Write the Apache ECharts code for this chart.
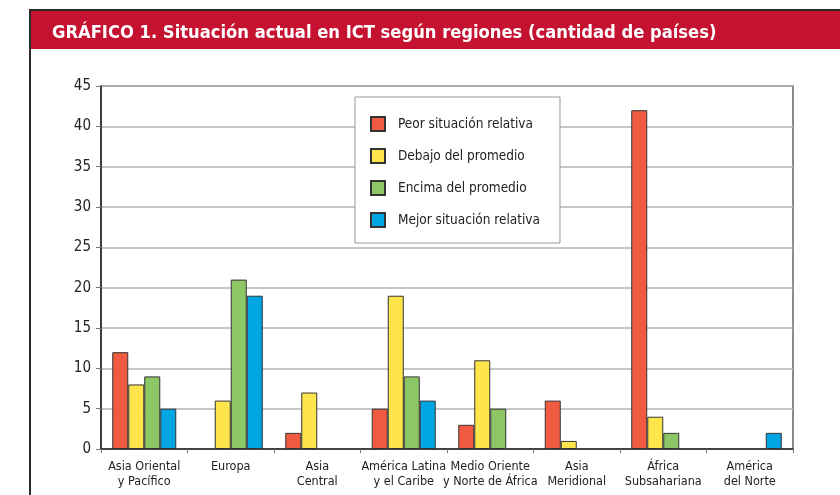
<!DOCTYPE html>
<html>
<head>
<meta charset="utf-8">
<script src="https://cdn.jsdelivr.net/npm/echarts@6/dist/echarts.min.js"></script>
<style>
  html, body { margin: 0; padding: 0; background: #fff; }
  #chart { width: 840px; height: 495px; }
</style>
</head>
<body>
<div id="chart"></div>
<script>
const regions = [
  'Asia Oriental\ny Pacífico',
  'Europa',
  'Asia\nCentral',
  'América Latina\ny el Caribe',
  'Medio Oriente\ny Norte de África',
  'Asia\nMeridional',
  'África\nSubsahariana',
  'América\ndel Norte'
]
const seriesNames = [
  'Peor situación relativa',
  'Debajo del promedio',
  'Encima del promedio',
  'Mejor situación relativa'
]
const peor = [12, null, 2, 5, 3, 6, 42, null]
const debajo = [8, 6, 7, 19, 11, 1, 4, null]
const encima = [9, 21, null, 9, 5, null, 2, null]
const mejor = [5, 19, null, 6, null, null, null, 2]
const colors = ['#f05a40', '#ffe54c', '#8cc665', '#00a5e3']

const font = '"Liberation Sans Narrow", "DejaVu Sans Condensed", Arial, sans-serif'

const chart = echarts.init(document.getElementById('chart'))

const makeSeries = (name, data, color) => ({
  name: name,
  type: 'bar',
  data: data,
  barWidth: 16,
  barGap: '0%',
  itemStyle: { color: color, borderColor: '#333', borderWidth: 1 }
})

chart.setOption({
  animation: false,
  title: {
    text: 'GRÁFICO 1. Situación actual en ICT según regiones (cantidad de países)',
    left: 47,
    top: 19,
    textStyle: { color: '#fff', fontFamily: font, fontWeight: 'bold', fontSize: 18.2 }
  },
  graphic: [
    { type: 'rect', z: -1, shape: { x: 29, y: 9, width: 811, height: 2 }, style: { fill: '#2b2b2b' } },
    { type: 'rect', z: -1, shape: { x: 29, y: 9, width: 2, height: 486 }, style: { fill: '#2b2b2b' } },
    { type: 'rect', z: -1, shape: { x: 31, y: 11, width: 809, height: 38 }, style: { fill: '#c41230' } }
  ],
  legend: {
    orient: 'vertical',
    left: 355,
    top: 97,
    backgroundColor: '#fff',
    borderColor: '#999',
    borderWidth: 1,
    padding: [19, 20, 15, 15],
    itemWidth: 14,
    itemHeight: 14,
    itemGap: 16,
    icon: 'rect',
    textStyle: { fontFamily: font, fontSize: 13.5, color: '#222', padding: [0, 0, 0, 8] },
    data: seriesNames
  },
  grid: {
    left: 101,
    right: 47,
    top: 86,
    bottom: 46,
    show: true,
    borderColor: '#666',
    borderWidth: 1.5
  },
  xAxis: {
    type: 'category',
    data: regions,
    axisLine: { lineStyle: { color: '#222', width: 1.5 } },
    axisTick: { show: true, length: 4, lineStyle: { color: '#777' } },
    axisLabel: { fontFamily: font, fontSize: 12.5, lineHeight: 15, color: '#222', margin: 10, interval: 0 }
  },
  yAxis: {
    type: 'value',
    min: 0,
    max: 45,
    interval: 5,
    axisLine: { show: true, lineStyle: { color: '#222', width: 1.5 } },
    axisTick: { show: true, length: 5, lineStyle: { color: '#777' } },
    axisLabel: { fontFamily: font, fontSize: 15, color: '#222', margin: 10 },
    splitLine: { lineStyle: { color: '#b5b5b5', width: 1.5 } }
  },
  series: [
    makeSeries(seriesNames[0], peor, colors[0]),
    makeSeries(seriesNames[1], debajo, colors[1]),
    makeSeries(seriesNames[2], encima, colors[2]),
    makeSeries(seriesNames[3], mejor, colors[3])
  ]
})
</script>
</body>
</html>
